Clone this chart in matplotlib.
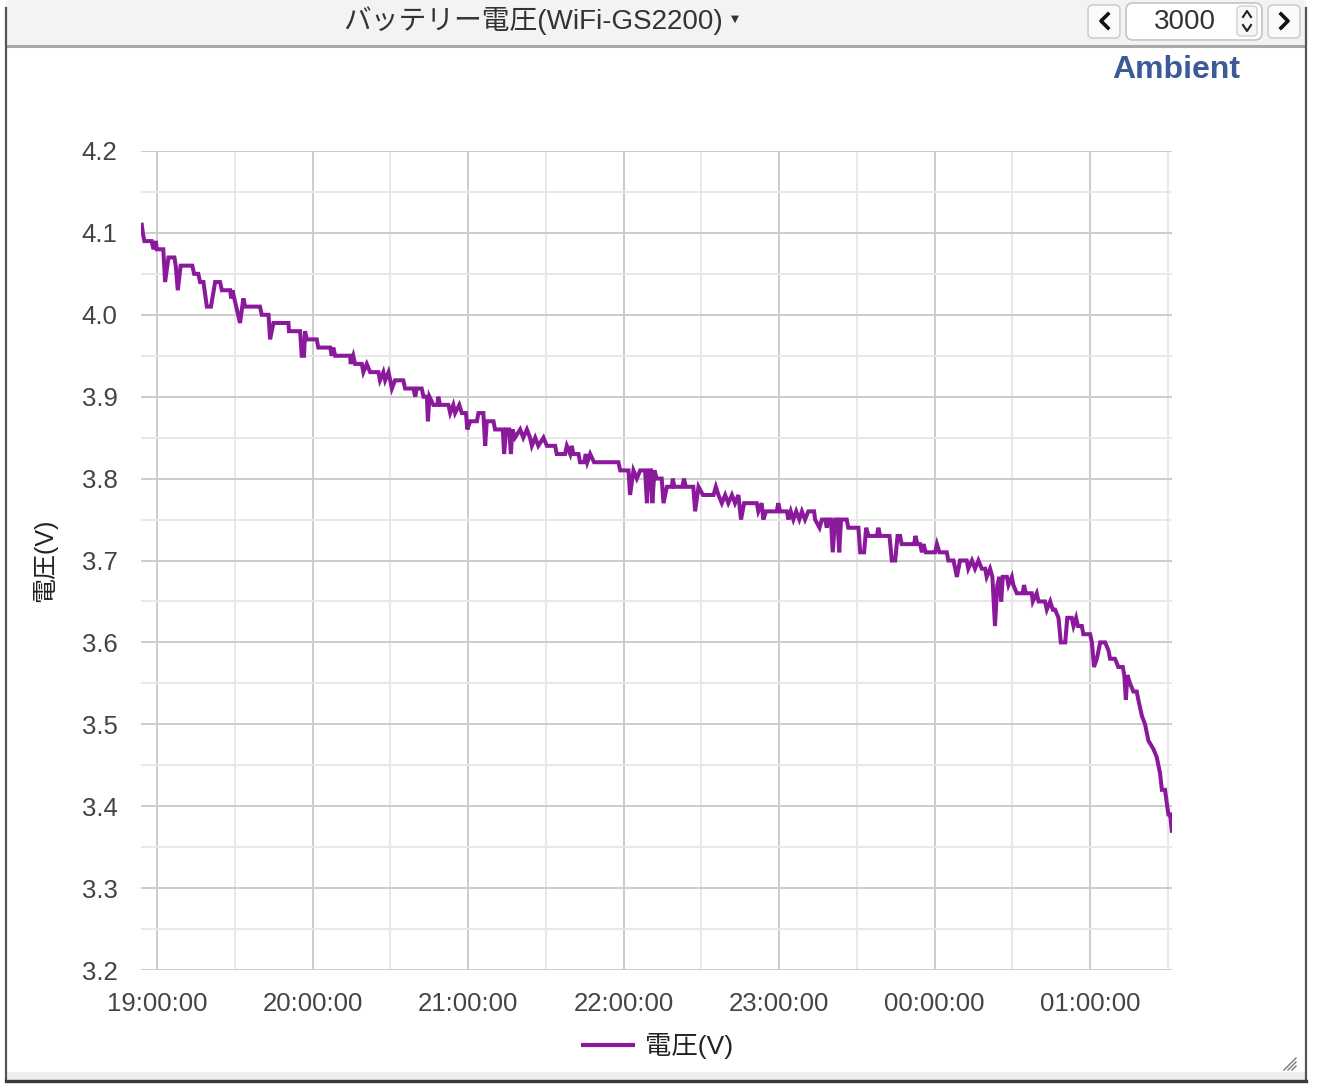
import matplotlib
matplotlib.use("Agg")
import matplotlib.pyplot as plt
from matplotlib.patches import Rectangle, FancyBboxPatch
from matplotlib.ticker import FixedLocator, MultipleLocator

plt.rcParams['font.family'] = ['Liberation Sans', 'Noto Sans CJK JP', 'DejaVu Sans']

# ---------------- data (minutes after 19:00, voltage) ----------------
minutes = [
    -5.9, -5.5, -4.9, -2.1, -1.4, -0.5, -0.1, 2.4, 3.1, 4.4, 6.7, 7.2, 8.0, 9.1, 13.6, 14.3, 15.9, 16.6, 17.9,
    19.2, 20.8, 22.4, 24.3, 25.0, 28.2, 28.6, 29.1, 29.8, 32.0, 33.3, 34.0, 39.7, 40.4, 43.0, 43.6, 44.9,
    50.7, 50.9, 55.2, 55.8, 56.7, 57.1, 57.8, 61.6, 62.2, 66.8, 67.4, 68.0, 68.7, 74.5, 74.7, 75.7, 76.4,
    79.0, 79.6, 80.9, 82.2, 85.4, 86.0, 87.3, 88.0, 89.3, 90.6, 91.8, 95.0, 95.7, 98.9, 99.6, 100.2, 102.1,
    102.8, 104.1, 104.5, 105.1, 106.6, 108.2, 108.5, 109.2, 112.4, 113.1, 114.3, 115.0, 116.6, 117.6,
    119.2, 119.7, 120.8, 123.4, 124.0, 125.9, 126.6, 127.2, 129.8, 130.4, 133.4, 133.9, 134.7, 135.9,
    136.5, 137.1, 138.1, 140.1, 141.3, 142.7, 143.9, 144.6, 145.9, 147.1, 149.1, 150.4, 153.6, 154.2,
    157.4, 158.1, 159.4, 160.0, 160.6, 162.6, 163.2, 164.8, 165.4, 166.0, 167.1, 168.6, 178.0, 178.7,
    181.9, 182.5, 183.8, 185.1, 186.4, 188.3, 189.0, 189.8, 190.6, 191.1, 191.9, 192.8, 194.7, 195.4,
    196.7, 198.6, 199.0, 199.6, 202.7, 203.3, 204.0, 206.9, 207.6, 208.9, 210.6, 214.7, 215.6, 216.6,
    217.9, 219.2, 220.4, 221.8, 223.0, 224.3, 225.3, 226.5, 231.4, 232.0, 233.3, 233.9, 235.0, 239.1,
    239.7, 240.4, 243.0, 243.6, 244.5, 245.5, 246.6, 247.8, 248.8, 250.0, 251.3, 253.5, 253.9, 255.6,
    256.5, 257.8, 258.4, 259.0, 260.0, 260.7, 261.6, 262.5, 263.2, 263.9, 266.1, 266.7, 270.6, 271.3,
    272.8, 273.6, 274.5, 277.7, 278.3, 279.0, 282.6, 283.5, 284.8, 285.7, 286.7, 287.3, 292.1, 292.6,
    293.4, 294.4, 295.1, 295.7, 296.6, 300.2, 300.9, 301.9, 304.7, 305.3, 307.3, 308.6, 309.8, 312.4,
    313.0, 314.4, 315.6, 316.9, 318.2, 319.5, 320.1, 321.4, 322.3, 323.3, 324.2, 325.0, 325.7, 326.3,
    327.9, 328.5, 329.8, 330.4, 331.7, 334.0, 334.5, 335.2, 337.5, 337.9, 339.4, 340.1, 342.6, 343.3,
    344.6, 345.6, 346.5, 347.8, 348.7, 350.4, 351.2, 352.9, 353.6, 354.6, 355.3, 356.8, 357.4, 360.0,
    360.7, 361.5, 362.6, 363.9, 365.8, 367.1, 367.7, 369.6, 370.9, 372.6, 373.2, 373.8, 374.4, 375.4,
    376.7, 378.0, 378.6, 380.0, 381.2, 382.5, 384.4, 385.7, 387.0, 387.7, 388.9, 390.2, 390.9, 391.5,
]
voltage = [
    4.11, 4.10, 4.09, 4.09, 4.08, 4.09, 4.08, 4.08, 4.04, 4.07, 4.07, 4.06, 4.03, 4.06, 4.06, 4.05, 4.05, 4.04, 4.04,
    4.01, 4.01, 4.04, 4.04, 4.03, 4.03, 4.02, 4.03, 4.02, 3.99, 4.02, 4.01, 4.01, 4.00, 4.00, 3.97, 3.99,
    3.99, 3.98, 3.98, 3.95, 3.95, 3.98, 3.97, 3.97, 3.96, 3.96, 3.95, 3.96, 3.95, 3.95, 3.94, 3.95, 3.94,
    3.94, 3.93, 3.94, 3.93, 3.93, 3.92, 3.93, 3.92, 3.93, 3.91, 3.92, 3.92, 3.91, 3.91, 3.90, 3.91, 3.91,
    3.90, 3.90, 3.87, 3.90, 3.89, 3.89, 3.90, 3.89, 3.89, 3.88, 3.89, 3.88, 3.89, 3.88,
    3.88, 3.86, 3.87, 3.87, 3.88, 3.88, 3.84, 3.87, 3.87, 3.86, 3.86, 3.83, 3.86, 3.86,
    3.83, 3.86, 3.85, 3.86, 3.85, 3.86, 3.85, 3.84, 3.85, 3.84, 3.85, 3.84, 3.84, 3.83,
    3.83, 3.84, 3.83, 3.84, 3.83, 3.83, 3.82, 3.82, 3.83, 3.82, 3.83, 3.82, 3.82, 3.81,
    3.81, 3.78, 3.81, 3.80, 3.81, 3.81, 3.77, 3.81, 3.81, 3.77, 3.81, 3.80, 3.80, 3.77,
    3.79, 3.79, 3.80, 3.79, 3.79, 3.80, 3.79, 3.79, 3.76, 3.79, 3.78, 3.78, 3.79, 3.78,
    3.77, 3.78, 3.77, 3.78, 3.77, 3.78, 3.75, 3.77, 3.77, 3.76, 3.77, 3.75, 3.76, 3.76,
    3.77, 3.76, 3.76, 3.75, 3.76, 3.75, 3.76, 3.75, 3.76, 3.75, 3.76, 3.76, 3.75, 3.74,
    3.75, 3.75, 3.74, 3.75, 3.75, 3.71, 3.75, 3.75, 3.71, 3.75, 3.75, 3.74, 3.74, 3.71,
    3.71, 3.74, 3.73, 3.73, 3.74, 3.73, 3.73, 3.70, 3.70, 3.73, 3.73, 3.72, 3.72, 3.73,
    3.72, 3.72, 3.71, 3.72, 3.71, 3.71, 3.72, 3.71, 3.71, 3.70, 3.70, 3.68, 3.70, 3.70,
    3.69, 3.70, 3.69, 3.70, 3.69, 3.69, 3.68, 3.69, 3.68, 3.62, 3.67, 3.68, 3.65, 3.68,
    3.68, 3.67, 3.68, 3.67, 3.66, 3.66, 3.67, 3.66, 3.66, 3.65, 3.66, 3.65, 3.65, 3.64,
    3.65, 3.64, 3.64, 3.63, 3.60, 3.60, 3.63, 3.63, 3.62, 3.63, 3.62, 3.62, 3.61, 3.61,
    3.60, 3.57, 3.58, 3.60, 3.60, 3.59, 3.58, 3.58, 3.57, 3.57, 3.56, 3.53, 3.56, 3.55,
    3.54, 3.54, 3.53, 3.51, 3.50, 3.48, 3.47, 3.46, 3.44, 3.42, 3.42, 3.39, 3.39, 3.37,
]

x_tick_pos = [0, 60, 120, 180, 240, 300, 360]
x_tick_labels = ["19:00:00", "20:00:00", "21:00:00", "22:00:00", "23:00:00", "00:00:00", "01:00:00"]
y_ticks = [3.2, 3.3, 3.4, 3.5, 3.6, 3.7, 3.8, 3.9, 4.0, 4.1, 4.2]

title = "バッテリー電圧(WiFi-GS2200)"
series_name = "電圧(V)"
y_label = "電圧(V)"
counter_value = "3000"
brand = "Ambient"

LINE_COLOR = "#8a1a9b"
W, H = 1318, 1090

fig = plt.figure(figsize=(W / 100, H / 100), dpi=100)
fig.patch.set_facecolor("white")

# ---------------- overlay (pixel coordinates) ----------------
ov = fig.add_axes([0, 0, 1, 1], zorder=0)
ov.set_xlim(0, W)
ov.set_ylim(H, 0)
ov.axis("off")

# header bar
ov.add_patch(Rectangle((6, 0), 1300, 46, facecolor="#f3f3f3", edgecolor="none"))
ov.plot([6, 1306], [46, 46], color="#a8a8a8", lw=2.2, solid_capstyle="butt")
# frame
ov.plot([6, 6], [8, 1080], color="#555555", lw=1.6)
ov.plot([1306, 1306], [8, 1080], color="#555555", lw=1.6)
ov.add_patch(Rectangle((6, 1072), 1300, 8, facecolor="#eeeeee", edgecolor="none"))
ov.plot([6, 1306], [1080.5, 1080.5], color="#3a3a3a", lw=2.4)

ov.text(533, 21, title, ha="center", va="center", fontsize=20, color="#333333")
ov.text(735, 19, "▼", ha="center", va="center", fontsize=7.5, color="#333333",
        family="DejaVu Sans")

# navigation widgets
for (x0, x1) in [(1088, 1120), (1268, 1300)]:
    ov.add_patch(FancyBboxPatch((x0, 5), x1 - x0, 33, boxstyle="round,pad=0,rounding_size=5",
                                facecolor="#fafafa", edgecolor="#cfcfcf", lw=1.2))
ov.plot([1108, 1101, 1108], [14, 21, 28], color="#111111", lw=2.6)
ov.plot([1281, 1288, 1281], [14, 21, 28], color="#111111", lw=2.6)
ov.add_patch(FancyBboxPatch((1126, 3), 136, 37, boxstyle="round,pad=0,rounding_size=7",
                            facecolor="white", edgecolor="#c4c4c4", lw=1.2))
ov.text(1185, 22, counter_value, ha="center", va="center", fontsize=20, color="#333333")
ov.add_patch(FancyBboxPatch((1237, 6), 20, 30, boxstyle="round,pad=0,rounding_size=4",
                            facecolor="#f7f7f7", edgecolor="#d0d0d0", lw=1))
ov.plot([1243, 1247, 1251], [17, 11, 17], color="#222222", lw=1.5)
ov.plot([1243, 1247, 1251], [25, 31, 25], color="#222222", lw=1.5)

ov.text(1176, 70, brand, ha="center", va="center", fontsize=23, fontweight="bold",
        color="#3d5a98")

# y label
ov.text(45, 560, y_label, ha="center", va="center", rotation=90, fontsize=18, color="#222222")

# legend
ov.plot([583, 633], [1045, 1045], color=LINE_COLOR, lw=3)
ov.text(645, 1046, series_name, ha="left", va="center", fontsize=19, color="#222222")

# resize grip
for k in range(3):
    ov.plot([1284 + 4 * k, 1296], [1070, 1058 + 4 * k], color="#777777", lw=1)

# ---------------- main chart ----------------
left, right, top, bottom = 141, 1172, 151, 970
ax = fig.add_axes([left / W, 1 - bottom / H, (right - left) / W, (bottom - top) / H], zorder=1)
ax.patch.set_alpha(0)

ax.plot(minutes, voltage, color=LINE_COLOR, lw=2.9, solid_joinstyle="miter", zorder=3)

ax.set_xlim(-6.2, 391.6)
ax.set_ylim(3.2, 4.2)
ax.set_xticks(x_tick_pos)
ax.set_xticklabels(x_tick_labels)
ax.xaxis.set_minor_locator(FixedLocator([30, 90, 150, 210, 270, 330, 390]))
ax.set_yticks(y_ticks)
ax.set_yticklabels([f"{v:.1f}" for v in y_ticks])
ax.yaxis.set_minor_locator(MultipleLocator(0.05))

ax.grid(which="major", color="#cccccc", lw=1.4)
ax.grid(which="minor", color="#e8e8e8", lw=1.4)
ax.set_axisbelow(True)
for s in ax.spines.values():
    s.set_visible(False)
ax.tick_params(which="both", length=0)
ax.tick_params(axis="y", pad=17, labelsize=18.5, labelcolor="#444444")
ax.tick_params(axis="x", pad=16, labelsize=18.5, labelcolor="#444444")

fig.savefig("out.png", dpi=100)
